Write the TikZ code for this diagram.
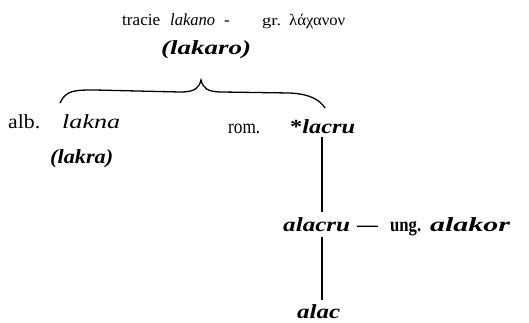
\documentclass[tikz,border=0pt]{standalone}
\usepackage{fontspec}
\usepackage{graphicx}
\setmainfont{Liberation Serif}
\begin{document}
\begin{tikzpicture}[x=1pt,y=-1pt,
  w/.style={inner sep=0pt,anchor=base west},
  big/.style={font=\fontsize{20}{22}\selectfont},
  mid/.style={font=\fontsize{20}{22}\selectfont},
  sm/.style={font=\fontsize{17}{19}\selectfont},
  ln/.style={line width=1.2pt}]
\newcommand{\fw}[2]{\resizebox{#1pt}{\height}{#2}}
\path[use as bounding box] (0,0) rectangle (529,322);
\node[w,sm] (tracie) at (122,25) {\fw{38}{tracie}};
\node[w,sm] (lakano) at (170,25) {\fw{45}{\textit{lakano}}};
\node[w,sm] (hy) at (224,25) {-};
\node[w,font=\fontsize{15}{17}\selectfont] (gr) at (262,25) {\fw{19}{gr.}};
\node[w,font=\fontsize{16}{18}\selectfont] (greek) at (289,25) {\fw{56}{λάχανον}};
\node[w,big] (lakaro) at (161,54) {\fw{90}{\textbf{\textit{(lakaro)}}}};
\node[w,mid] (alb) at (8,128) {\fw{32}{alb.}};
\node[w,big] (lakna) at (62,128) {\fw{58}{\textit{lakna}}};
\node[w,big] (lakra) at (50,163) {\fw{63}{\textbf{\textit{(lakra)}}}};
\node[w,mid] (rom) at (228,133) {\fw{32}{rom.}};
\node[w,big] (lacru) at (290,133) {\fw{65}{\textbf{*\textit{lacru}}}};
\node[w,big] (alacru) at (283,231) {\fw{67}{\textbf{\textit{alacru}}}};
\node[w,big] (dash) at (357,231) {\fw{21}{\textbf{—}}};
\node[w,mid] (ung) at (390,231) {\fw{31}{\textbf{ung.}}};
\node[w,big] (alakor) at (430,231) {\fw{80}{\textbf{\textit{alakor}}}};
\node[w,big] (alac) at (297,318) {\fw{43}{\textbf{\textit{alac}}}};
\coordinate (bl) at (60,103);
\coordinate (bm) at (201,80);
\coordinate (br) at (325,108);
\draw[line width=1.3pt] (bl) .. controls (66,90) and (75,90) .. (95,90)
  -- (180,92) .. controls (195,92) and (199,88) .. (bm)
  .. controls (203,88) and (207,92) .. (222,92)
  -- (290,93) .. controls (310,94) and (320,100) .. (br);
\draw[ln] (322,137) -- (322,212);
\draw[ln] (322,237) -- (322,300);
\end{tikzpicture}
\end{document}
